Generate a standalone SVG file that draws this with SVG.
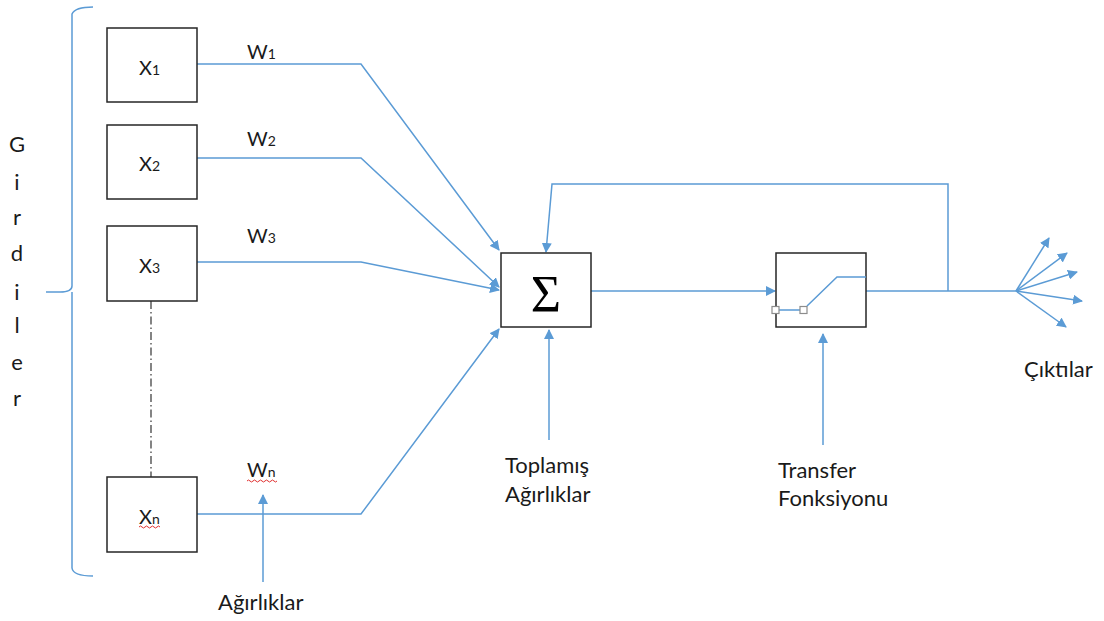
<svg xmlns="http://www.w3.org/2000/svg" width="1104" height="621" viewBox="0 0 1104 621">
<defs>
<marker id="ah" viewBox="0 0 10 10" refX="9" refY="5" markerWidth="10" markerHeight="10" markerUnits="userSpaceOnUse" orient="auto"><path d="M0,0 L10,5 L0,10 z" fill="#5B9BD5"/></marker>
<style>
.box{fill:#fff;stroke:#262626;stroke-width:1.5}
.ln{fill:none;stroke:#5B9BD5;stroke-width:1.5}
.ar{fill:none;stroke:#5B9BD5;stroke-width:1.5;marker-end:url(#ah)}
.t{font-family:Lato,"Liberation Sans",sans-serif;font-size:20px;fill:#1a1a1a}
.lb{font-size:22px}
.sub{font-size:14px}
.sq{fill:#fff;stroke:#8c8c8c;stroke-width:1.2}
.wavy{fill:none;stroke:#e03030;stroke-width:1}
</style>
</defs>
<rect width="1104" height="621" fill="#fff"/>
<g id="brace"><path class="ln" d="M93,7 Q75,7 72,14 L72,286 Q72,292 60,292 L46,292 M72,292 Q72,296 72,300 L72,568 Q73,576 93,576" stroke-width="1.3"/></g>
<g id="girdiler"><text class="t lb" text-anchor="middle">
<tspan x="17" y="152">G</tspan><tspan x="17" y="190">i</tspan><tspan x="17" y="225">r</tspan><tspan x="17" y="261">d</tspan><tspan x="17" y="300">i</tspan><tspan x="17" y="333">l</tspan><tspan x="17" y="370">e</tspan><tspan x="17" y="406">r</tspan></text></g>
<g id="connectors">
<path class="ar" d="M197,64 L361,64 L499,250"/>
<path class="ar" d="M197,158 L361,158 L499,287"/>
<path class="ar" d="M197,262 L361,262 L499,290"/>
<path class="ar" d="M197,514 L361,514 L499,329"/>
<path d="M151,301 L151,477" fill="none" stroke="#333" stroke-width="1.2" stroke-dasharray="8,3,1.5,3"/>
<path class="ar" d="M591,291 L775,291"/>
<path class="ln" d="M866,291 L1016,291"/>
<path class="ar" d="M948,291 L948,184 L552,184 L546,252"/>
<path class="ar" d="M549,440 L549,330"/>
<path class="ar" d="M823,445 L823,334"/>
<path class="ar" d="M263,582 L263,495"/>
<path class="ar" d="M1016,291 L1049,238"/>
<path class="ar" d="M1016,291 L1067,253"/>
<path class="ar" d="M1016,291 L1077,272"/>
<path class="ar" d="M1016,291 L1082,301"/>
<path class="ar" d="M1016,291 L1066,327"/>
</g>
<g id="x1"><rect class="box" x="107" y="28" width="90" height="74"/><text class="t" x="139" y="75">X<tspan class="sub">1</tspan></text></g>
<g id="x2"><rect class="box" x="107" y="125" width="90" height="74"/><text class="t" x="139" y="171">X<tspan class="sub">2</tspan></text></g>
<g id="x3"><rect class="box" x="107" y="226" width="90" height="75"/><text class="t" x="139" y="273">X<tspan class="sub">3</tspan></text></g>
<g id="xn"><rect class="box" x="107" y="477" width="90" height="75"/><text class="t" x="139" y="524">X<tspan class="sub">n</tspan></text><path class="wavy" d="M139,527 q1.5,-2 3,0 t3,0 t3,0 t3,0 t3,0 t3,0 t3,0"/></g>
<g id="w1"><text class="t" x="247" y="59">W<tspan class="sub">1</tspan></text></g>
<g id="w2"><text class="t" x="247" y="146">W<tspan class="sub">2</tspan></text></g>
<g id="w3"><text class="t" x="247" y="243">W<tspan class="sub">3</tspan></text></g>
<g id="wn"><text class="t" x="247" y="477">W<tspan class="sub">n</tspan></text><path class="wavy" d="M247,481 q1.5,-2 3,0 t3,0 t3,0 t3,0 t3,0 t3,0 t3,0 t3,0 t3,0 t3,0"/></g>
<g id="sum"><rect class="box" x="501" y="253" width="90" height="74"/><text x="546" y="312" text-anchor="middle" font-family="'Liberation Serif',serif" font-size="52" fill="#000">Σ</text></g>
<g id="transfer"><rect class="box" x="776" y="253" width="90" height="74"/>
<path class="ln" d="M776,310 L803,310 M807,306 L837,277 L866,277"/>
<rect class="sq" x="772" y="306.5" width="7" height="7"/><rect class="sq" x="800" y="306.5" width="7" height="7"/></g>
<g id="label-toplamis"><text class="t lb" x="505" y="473">Toplamış</text><text class="t lb" x="505" y="502">Ağırlıklar</text></g>
<g id="label-transfer"><text class="t lb" x="778" y="478">Transfer</text><text class="t lb" x="778" y="506">Fonksiyonu</text></g>
<g id="label-agirliklar"><text class="t lb" x="218" y="610">Ağırlıklar</text></g>
<g id="label-ciktilar"><text class="t lb" x="1024" y="377">Çıktılar</text></g>
</svg>
